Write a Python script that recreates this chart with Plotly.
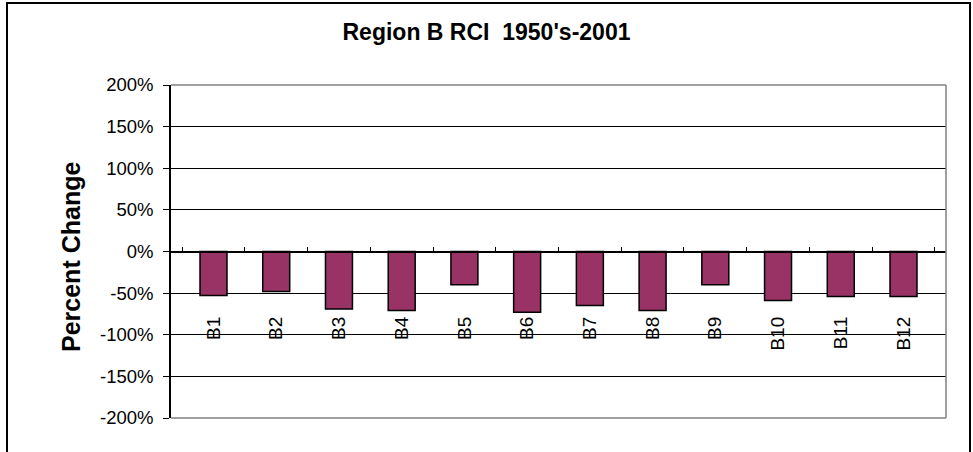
import plotly.graph_objects as go

# Region B RCI, percent change per basin (fractions)
categories = ["B1", "B2", "B3", "B4", "B5", "B6", "B7", "B8", "B9", "B10", "B11", "B12"]
pct_change = [-0.53, -0.48, -0.69, -0.71, -0.40, -0.73, -0.65, -0.71, -0.40, -0.59, -0.54, -0.54]

y_tick_vals = [2.0, 1.5, 1.0, 0.5, 0.0, -0.5, -1.0, -1.5, -2.0]
y_tick_text = ["200%", "150%", "100%", "50%", "0%", "-50%", "-100%", "-150%", "-200%"]

FONT = "Arial, Liberation Sans, Helvetica, sans-serif"
W, H = 973, 452
L, R, T, B = 171, 27, 85, 34

fig = go.Figure()

fig.add_trace(go.Bar(
    x=categories,
    y=pct_change,
    marker=dict(color="#993366", line=dict(color="black", width=1.5)),
    hoverinfo="skip",
    showlegend=False,
))

# invisible carrier trace so the label axis lists the categories
fig.add_trace(go.Scatter(
    x=categories,
    y=[0] * len(categories),
    xaxis="x2",
    mode="markers",
    marker=dict(opacity=0),
    hoverinfo="skip",
    showlegend=False,
))

fig.update_layout(
    width=W,
    height=H,
    margin=dict(l=L, r=R, t=T, b=B),
    paper_bgcolor="white",
    plot_bgcolor="white",
    bargap=0.57,
    font=dict(family=FONT, color="black"),
    title=dict(
        text="Region B RCI  1950's-2001",
        font=dict(family=FONT, size=23, color="black", weight="bold"),
        x=0.5, xref="container", xanchor="center",
        y=1 - 32 / H, yref="container", yanchor="middle",
    ),
    xaxis=dict(
        type="category",
        categoryorder="array",
        categoryarray=categories,
        anchor="free",
        position=0.5,
        showline=True,
        linecolor="black",
        linewidth=1,
        ticks="inside",
        tickson="boundaries",
        ticklen=5,
        tickcolor="black",
        tickwidth=1,
        showticklabels=False,
        showgrid=False,
        zeroline=False,
    ),
    xaxis2=dict(
        type="category",
        categoryorder="array",
        categoryarray=categories,
        overlaying="x",
        matches="x",
        anchor="free",
        position=(H - B - 312) / (H - T - B),
        showline=False,
        ticks="",
        tickangle=-90,
        tickfont=dict(family=FONT, size=19, color="black"),
        showgrid=False,
        zeroline=False,
    ),
    yaxis=dict(
        range=[-2.0, 2.0],
        tickmode="array",
        tickvals=y_tick_vals,
        ticktext=y_tick_text,
        tickfont=dict(family=FONT, size=18.5, color="black"),
        ticks="outside",
        ticklen=6,
        tickcolor="black",
        tickwidth=1,
        ticklabelstandoff=6,
        showline=True,
        linecolor="black",
        linewidth=1.5,
        showgrid=True,
        gridcolor="black",
        gridwidth=1,
        zeroline=False,
    ),
    annotations=[
        dict(
            text="Percent Change",
            textangle=-90,
            font=dict(family=FONT, size=25, color="black", weight="bold"),
            x=(71 - L) / (W - L - R), xref="paper", xanchor="center",
            y=(H - B - 257) / (H - T - B), yref="paper", yanchor="middle",
            showarrow=False,
        )
    ],
    shapes=[
        # plot-area border (top, right, bottom)
        dict(type="line", xref="paper", yref="paper", x0=0, x1=1, y0=1, y1=1,
             line=dict(color="#808080", width=1.5), layer="above"),
        dict(type="line", xref="paper", yref="paper", x0=1, x1=1, y0=0, y1=1,
             line=dict(color="#808080", width=1.5), layer="above"),
        dict(type="line", xref="paper", yref="paper", x0=0, x1=1, y0=0, y1=0,
             line=dict(color="#808080", width=1.5), layer="above"),
        # chart frame
        dict(type="rect", xref="paper", yref="paper",
             x0=(7 - L) / (W - L - R), x1=(970 - L) / (W - L - R),
             y0=(H - B - 470) / (H - T - B), y1=(H - B - 3) / (H - T - B),
             line=dict(color="black", width=2), fillcolor="rgba(0,0,0,0)",
             layer="above"),
    ],
)

fig.write_html("out.html")
